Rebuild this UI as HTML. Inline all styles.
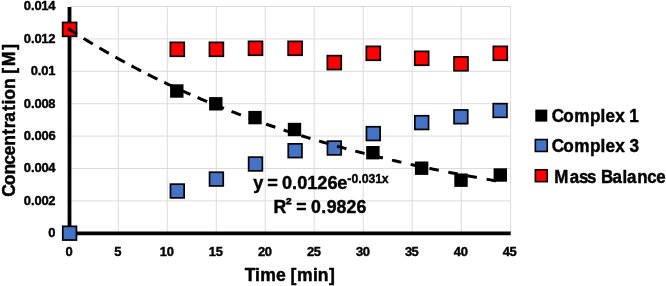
<!DOCTYPE html>
<html><head><meta charset="utf-8"><title>Concentration vs Time</title>
<style>
html,body{margin:0;padding:0;background:#fff;}
body{width:666px;height:286px;overflow:hidden;}
svg{display:block;}
text{font-family:"Liberation Sans",sans-serif;font-weight:bold;fill:#000;stroke:#000;stroke-width:0.45px;stroke-linejoin:round;white-space:pre;}
.tick{font-size:12.6px;stroke-width:0.4px;}
.big{font-size:17.8px;}
.sup{font-size:12.1px;stroke-width:0.4px;}
</style></head><body>
<svg width="666" height="286" viewBox="0 0 666 286">
<rect x="0" y="0" width="666" height="286" fill="#fff"/>

<g stroke="#d9d9d9" stroke-width="0.95" fill="none">
<line x1="69.8" y1="200.90" x2="510.7" y2="200.90"/>
<line x1="69.8" y1="168.50" x2="510.7" y2="168.50"/>
<line x1="69.8" y1="136.10" x2="510.7" y2="136.10"/>
<line x1="69.8" y1="103.70" x2="510.7" y2="103.70"/>
<line x1="69.8" y1="71.30" x2="510.7" y2="71.30"/>
<line x1="69.8" y1="38.90" x2="510.7" y2="38.90"/>
<line x1="69.8" y1="6.50" x2="510.7" y2="6.50"/>
<line x1="118.29" y1="6.5" x2="118.29" y2="233.3"/>
<line x1="167.28" y1="6.5" x2="167.28" y2="233.3"/>
<line x1="216.27" y1="6.5" x2="216.27" y2="233.3"/>
<line x1="265.26" y1="6.5" x2="265.26" y2="233.3"/>
<line x1="314.24" y1="6.5" x2="314.24" y2="233.3"/>
<line x1="363.23" y1="6.5" x2="363.23" y2="233.3"/>
<line x1="412.22" y1="6.5" x2="412.22" y2="233.3"/>
<line x1="461.21" y1="6.5" x2="461.21" y2="233.3"/>
<line x1="510.60" y1="6.5" x2="510.60" y2="233.3"/>
</g>
<g stroke="#000" stroke-width="3.8" fill="none"><line x1="69.5" y1="7.1" x2="69.5" y2="235.2"/><line x1="67.6" y1="233.3" x2="510.7" y2="233.3"/></g>
<g>
<rect x="63.00" y="22.70" width="13.4" height="13.4" fill="#000"/>
<rect x="170.10" y="84.30" width="13.4" height="13.4" fill="#000"/>
<rect x="209.10" y="97.10" width="13.4" height="13.4" fill="#000"/>
<rect x="248.30" y="110.90" width="13.4" height="13.4" fill="#000"/>
<rect x="287.80" y="122.80" width="13.4" height="13.4" fill="#000"/>
<rect x="327.30" y="141.30" width="13.4" height="13.4" fill="#000"/>
<rect x="366.20" y="146.00" width="13.4" height="13.4" fill="#000"/>
<rect x="414.90" y="161.50" width="13.4" height="13.4" fill="#000"/>
<rect x="454.30" y="173.50" width="13.4" height="13.4" fill="#000"/>
<rect x="493.60" y="168.30" width="13.4" height="13.4" fill="#000"/>
</g><g>
<rect x="62.75" y="226.35" width="13.7" height="13.7" fill="#4472c4" stroke="#000" stroke-width="1.7"/>
<rect x="170.45" y="184.15" width="13.7" height="13.7" fill="#4472c4" stroke="#000" stroke-width="1.7"/>
<rect x="209.55" y="172.25" width="13.7" height="13.7" fill="#4472c4" stroke="#000" stroke-width="1.7"/>
<rect x="248.65" y="157.15" width="13.7" height="13.7" fill="#4472c4" stroke="#000" stroke-width="1.7"/>
<rect x="288.25" y="143.85" width="13.7" height="13.7" fill="#4472c4" stroke="#000" stroke-width="1.7"/>
<rect x="327.45" y="141.15" width="13.7" height="13.7" fill="#4472c4" stroke="#000" stroke-width="1.7"/>
<rect x="366.45" y="126.75" width="13.7" height="13.7" fill="#4472c4" stroke="#000" stroke-width="1.7"/>
<rect x="414.85" y="115.75" width="13.7" height="13.7" fill="#4472c4" stroke="#000" stroke-width="1.7"/>
<rect x="454.05" y="109.95" width="13.7" height="13.7" fill="#4472c4" stroke="#000" stroke-width="1.7"/>
<rect x="493.25" y="103.65" width="13.7" height="13.7" fill="#4472c4" stroke="#000" stroke-width="1.7"/>
</g><g>
<rect x="62.65" y="22.45" width="13.9" height="13.9" fill="#ff0000" stroke="#000" stroke-width="1.7"/>
<rect x="170.35" y="42.35" width="13.9" height="13.9" fill="#ff0000" stroke="#000" stroke-width="1.7"/>
<rect x="209.45" y="42.35" width="13.9" height="13.9" fill="#ff0000" stroke="#000" stroke-width="1.7"/>
<rect x="248.55" y="41.35" width="13.9" height="13.9" fill="#ff0000" stroke="#000" stroke-width="1.7"/>
<rect x="288.15" y="41.35" width="13.9" height="13.9" fill="#ff0000" stroke="#000" stroke-width="1.7"/>
<rect x="327.35" y="55.65" width="13.9" height="13.9" fill="#ff0000" stroke="#000" stroke-width="1.7"/>
<rect x="366.35" y="46.35" width="13.9" height="13.9" fill="#ff0000" stroke="#000" stroke-width="1.7"/>
<rect x="414.75" y="51.35" width="13.9" height="13.9" fill="#ff0000" stroke="#000" stroke-width="1.7"/>
<rect x="454.05" y="56.85" width="13.9" height="13.9" fill="#ff0000" stroke="#000" stroke-width="1.7"/>
<rect x="493.35" y="46.35" width="13.9" height="13.9" fill="#ff0000" stroke="#000" stroke-width="1.7"/>
</g>
<path d="M67.94,28.48 L68.94,29.12 L70.44,30.09 L71.94,31.06 L73.44,32.02 L74.94,32.97 L76.44,33.92 L77.03,34.30 M83.60,38.40 L84.60,39.02 L86.10,39.94 L87.60,40.86 L89.10,41.77 L90.60,42.68 L92.10,43.58 L92.82,44.02 M99.41,47.94 L100.41,48.52 L101.91,49.40 L103.41,50.27 L104.91,51.14 L106.41,52.01 L107.91,52.87 L108.76,53.35 M115.38,57.09 L116.38,57.65 L117.88,58.49 L119.38,59.32 L120.88,60.14 L122.38,60.96 L123.88,61.78 L124.84,62.30 M131.51,65.88 L132.51,66.41 L134.01,67.21 L135.51,67.99 L137.01,68.78 L138.51,69.56 L140.01,70.34 L141.08,70.89 M147.79,74.31 L148.79,74.82 L150.29,75.57 L151.79,76.32 L153.29,77.06 L154.79,77.81 L156.29,78.55 L157.46,79.12 M164.22,82.39 L165.22,82.87 L166.72,83.59 L168.22,84.30 L169.72,85.01 L171.22,85.71 L172.72,86.41 L173.87,86.95 M180.81,90.14 L181.81,90.59 L183.31,91.27 L184.81,91.94 L186.31,92.62 L187.81,93.28 L189.31,93.95 L190.41,94.43 M197.56,97.55 L198.56,97.98 L200.06,98.62 L201.56,99.26 L203.06,99.90 L204.56,100.54 L206.06,101.17 L207.09,101.60 M214.46,104.65 L215.46,105.05 L216.96,105.66 L218.46,106.27 L219.96,106.87 L221.46,107.47 L222.96,108.07 L223.93,108.46 M231.52,111.43 L232.52,111.82 L234.02,112.40 L235.52,112.97 L237.02,113.54 L238.52,114.11 L240.02,114.68 L240.90,115.01 M248.73,117.92 L249.73,118.28 L251.23,118.83 L252.73,119.37 L254.23,119.92 L255.73,120.46 L257.23,120.99 L258.03,121.28 M266.10,124.11 L267.10,124.46 L268.60,124.98 L270.10,125.49 L271.60,126.00 L273.10,126.52 L274.60,127.02 L275.30,127.26 M283.62,130.03 L284.62,130.36 L286.12,130.85 L287.62,131.33 L289.12,131.82 L290.62,132.30 L292.12,132.78 L292.75,132.98 M301.30,135.67 L302.30,135.98 L303.80,136.45 L305.30,136.91 L306.80,137.37 L308.30,137.82 L309.80,138.28 L310.48,138.48 M319.13,141.06 L320.13,141.35 L321.63,141.79 L323.13,142.22 L324.63,142.66 L326.13,143.09 L327.63,143.52 L328.35,143.72 M337.12,146.19 L338.12,146.46 L339.62,146.88 L341.12,147.29 L342.62,147.70 L344.12,148.11 L345.62,148.51 L346.38,148.72 M355.26,151.08 L356.26,151.34 L357.76,151.73 L359.26,152.12 L360.76,152.50 L362.26,152.89 L363.76,153.27 L364.56,153.47 M373.56,155.73 L374.56,155.98 L376.06,156.34 L377.56,156.71 L379.06,157.08 L380.56,157.44 L382.06,157.80 L382.89,158.00 M392.01,160.16 L393.01,160.39 L394.51,160.74 L396.01,161.08 L397.51,161.43 L399.01,161.77 L400.51,162.11 L401.37,162.31 M410.62,164.37 L411.62,164.59 L413.12,164.92 L414.62,165.24 L416.12,165.57 L417.62,165.89 L419.12,166.21 L420.01,166.40 M429.39,168.37 L430.39,168.58 L431.89,168.89 L433.39,169.19 L434.89,169.50 L436.39,169.80 L437.89,170.11 L438.80,170.29 M448.31,172.17 L449.31,172.37 L450.81,172.66 L452.31,172.95 L453.81,173.24 L455.31,173.52 L456.81,173.81 L457.74,173.98 M467.39,175.78 L468.39,175.97 L469.89,176.24 L471.39,176.51 L472.89,176.78 L474.39,177.05 L475.89,177.32 L476.83,177.49 M486.62,179.21 L487.62,179.38 L489.12,179.64 L490.62,179.89 L492.12,180.15 L493.62,180.40 L495.12,180.66 L496.08,180.82" fill="none" stroke="#000" stroke-width="3" stroke-linecap="butt"/>
<g>
<text class="tick" transform="translate(48.46,237.20) scale(1.0300,1)" x="-0.12">0</text>
<text class="tick" transform="translate(23.97,204.80) scale(1.0300,1)" x="-0.12 6.77 10.17 16.91 23.67">0.002</text>
<text class="tick" transform="translate(23.97,172.40) scale(1.0300,1)" x="-0.12 6.77 10.17 16.91 23.53">0.004</text>
<text class="tick" transform="translate(23.97,140.00) scale(1.0300,1)" x="-0.12 6.77 10.17 16.91 23.71">0.006</text>
<text class="tick" transform="translate(23.97,107.60) scale(1.0300,1)" x="-0.12 6.77 10.17 16.91 23.64">0.008</text>
<text class="tick" transform="translate(30.91,75.20) scale(1.0300,1)" x="-0.12 6.77 10.17 16.88">0.01</text>
<text class="tick" transform="translate(23.97,42.80) scale(1.0300,1)" x="-0.12 6.77 10.17 16.88 23.67">0.012</text>
<text class="tick" transform="translate(23.97,10.40) scale(1.0300,1)" x="-0.12 6.77 10.17 16.88 23.53">0.014</text>
</g>
<g>
<text class="tick" transform="translate(65.53,255.60) scale(1.0300,1)" x="-0.12">0</text>
<text class="tick" transform="translate(114.52,255.60) scale(1.0300,1)" x="-0.30">5</text>
<text class="tick" transform="translate(160.03,255.60) scale(1.0300,1)" x="-0.16 6.62">10</text>
<text class="tick" transform="translate(209.02,255.60) scale(1.0300,1)" x="-0.16 6.44">15</text>
<text class="tick" transform="translate(258.01,255.60) scale(1.0300,1)" x="-0.11 6.62">20</text>
<text class="tick" transform="translate(307.00,255.60) scale(1.0300,1)" x="-0.11 6.44">25</text>
<text class="tick" transform="translate(355.99,255.60) scale(1.0300,1)" x="0.01 6.62">30</text>
<text class="tick" transform="translate(404.98,255.60) scale(1.0300,1)" x="0.01 6.44">35</text>
<text class="tick" transform="translate(453.97,255.60) scale(1.0300,1)" x="-0.25 6.62">40</text>
<text class="tick" transform="translate(502.96,255.60) scale(1.0300,1)" x="-0.25 6.44">45</text>
</g>
<text class="big" transform="translate(245.20,281.30) scale(0.9875,1)" x="-0.48 9.91 15.14 31.22 41.05 45.87 52.59 68.59 73.53 84.80">Time [min]</text>
<text class="big" transform="translate(14.70,195.70) rotate(-90) scale(0.9868,1)" x="-1.14 10.58 21.40 31.50 40.63 50.67 61.90 68.44 75.05 85.90 92.38 97.28 108.10 118.67 123.49 131.28 147.97">Concentration [M]</text>
<rect x="535.30" y="109.60" width="12" height="12" fill="#000"/>
<rect x="535.35" y="139.55" width="11.9" height="11.9" fill="#4472c4" stroke="#000" stroke-width="1.6"/>
<rect x="535.35" y="169.75" width="11.9" height="11.9" fill="#ff0000" stroke="#000" stroke-width="1.6"/>
<text class="big" transform="translate(552.70,121.90) scale(0.9628,1)" x="-1.00 10.98 22.44 38.83 49.77 54.94 64.89 74.41 79.46">Complex 1</text>
<text class="big" transform="translate(552.70,152.00) scale(0.9661,1)" x="-1.02 10.92 22.34 38.68 49.59 54.74 64.65 74.15 79.39">Complex 3</text>
<text class="big" transform="translate(552.75,182.60) scale(0.9500,1)" x="1.69 17.93 27.76 36.07 45.02 50.91 62.82 73.50 78.23 89.01 99.49 108.97">Mass Balance</text>
<text class="big" transform="translate(253.70,189.20) scale(1.0173,1)" x="-0.40 8.95 13.26 23.04 27.71 37.71 42.77 52.60 62.53 72.45 82.15">y = 0.0126e</text>
<text class="sup" transform="translate(347.32,183.20) scale(1.0122,1)" x="0.01 4.02 10.81 14.23 21.05 27.57 33.97">-0.031x</text>
<text class="big" transform="translate(274.30,212.90) scale(0.9940,1)" x="-0.76 11.65 17.72 22.20 32.15 36.98 47.16 52.73 62.47 72.62 82.78" y="0.00 -2.80 0.00 0.00 0.00 0.00 0.00 0.00 0.00 0.00 0.00">R² = 0.9826</text>
</svg></body></html>
